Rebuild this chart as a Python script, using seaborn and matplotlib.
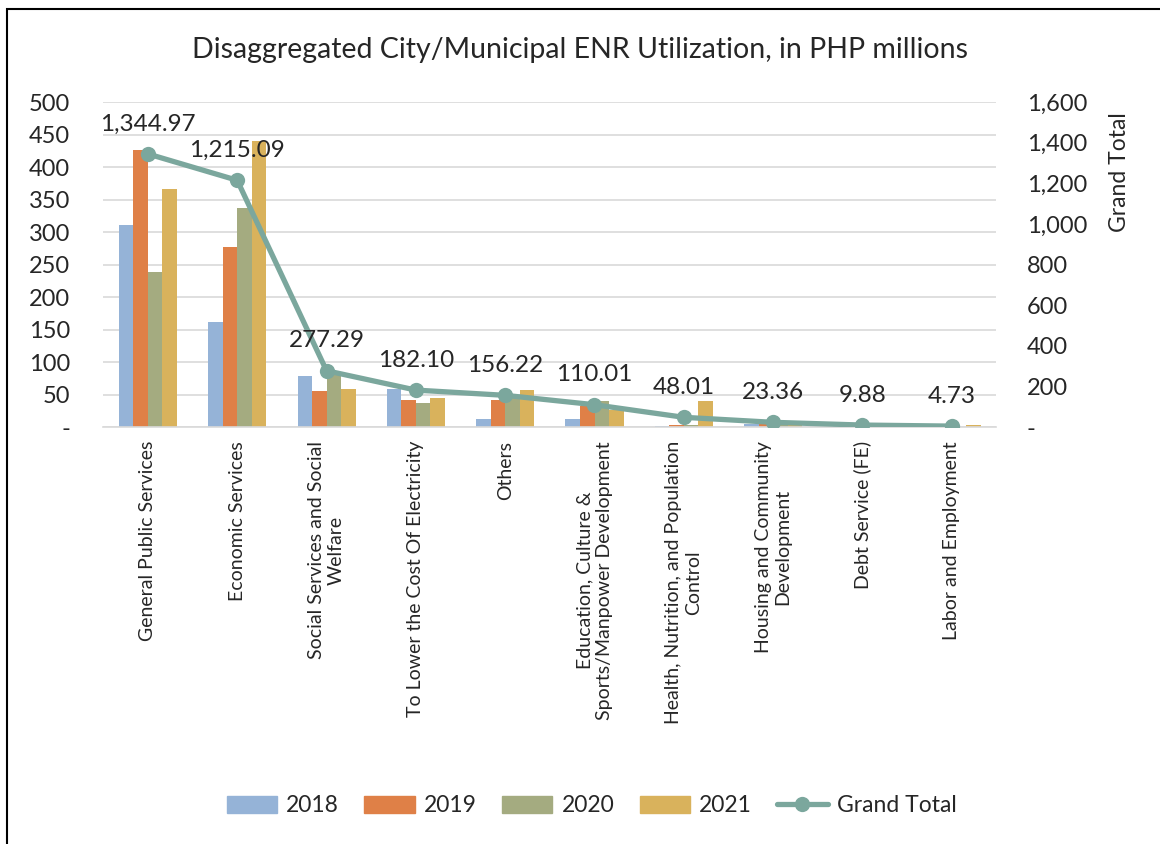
import numpy as np
import pandas as pd
import matplotlib
matplotlib.use("Agg")
import matplotlib.pyplot as plt
import matplotlib.patches as mpatches
from matplotlib.lines import Line2D
from matplotlib.ticker import FuncFormatter, MultipleLocator
import seaborn as sns

# категории и значения (PHP млн)
categories = [
    "General Public Services",
    "Economic Services",
    "Social Services and Social\nWelfare",
    "To Lower the Cost Of Electricity",
    "Others",
    "Education, Culture &\nSports/Manpower Development",
    "Health, Nutrition, and Population\nControl",
    "Housing and Community\nDevelopment",
    "Debt Service (FE)",
    "Labor and Employment",
]
years = ["2018", "2019", "2020", "2021"]
v2018 = [311, 161, 79, 59, 12, 12, 2, 5, 2, 0.5]
v2019 = [427, 277, 55, 42, 41.5, 32, 3, 10, 3, 0.5]
v2020 = [239, 337, 85, 37, 46, 40, 3, 5, 3, 0.5]
v2021 = [367, 440, 58, 44, 57, 26, 40, 3.4, 1.9, 3.2]
grand_total = [1344.97, 1215.09, 277.29, 182.10, 156.22, 110.01, 48.01, 23.36, 9.88, 4.73]

colors = ["#95B3D7", "#DF8047", "#A4AB80", "#D9B25C"]
line_color = "#7BA79D"

sns.set_style("white")
plt.rcParams["font.family"] = ["Lato", "DejaVu Sans"]

df = pd.DataFrame({
    "category": categories * 4,
    "year": np.repeat(years, len(categories)),
    "value": v2018 + v2019 + v2020 + v2021,
})

fig = plt.figure(figsize=(11.6, 8.44), dpi=100)
ax = fig.add_axes([0.089, 0.494, 0.770, 0.385])

sns.barplot(data=df, x="category", y="value", hue="year", order=categories,
            hue_order=years, palette=colors, saturation=1, width=0.65,
            linewidth=0, ax=ax, legend=False)

ax.set_ylim(0, 500)
ax.set_xlim(-0.5, len(categories) - 0.5)
ax.yaxis.set_major_locator(MultipleLocator(50))
ax.yaxis.set_major_formatter(FuncFormatter(lambda v, p: "-" if v == 0 else f"{v:,.0f}"))
ax.grid(axis="y", color="#D9D9D9", lw=1.2)
ax.set_axisbelow(True)
for s in ["left", "right", "top"]:
    ax.spines[s].set_visible(False)
ax.spines["bottom"].set_color("#D9D9D9")
ax.spines["bottom"].set_linewidth(1.2)
ax.tick_params(axis="y", length=0, pad=24, labelsize=17)
ax.tick_params(axis="x", length=0, pad=10)
ax.set_xlabel("")
ax.set_ylabel("")
ax.set_xticks(range(len(categories)))
ax.set_xticklabels(categories, rotation=90, ha="center", va="top",
                   multialignment="center", fontsize=14)

# правая ось - итог
ax2 = ax.twinx()
sns.lineplot(x=np.arange(len(categories)), y=grand_total, ax=ax2,
             color=line_color, lw=3.8, marker="o", markersize=11,
             markeredgewidth=0, legend=False)
ax2.set_ylim(0, 1600)
ax2.yaxis.set_major_locator(MultipleLocator(200))
ax2.yaxis.set_major_formatter(FuncFormatter(lambda v, p: "-" if v == 0 else f"{v:,.0f}"))
ax2.tick_params(axis="y", length=0, pad=22, labelsize=17)
for s in ax2.spines.values():
    s.set_visible(False)
ax2.set_xlim(-0.5, len(categories) - 0.5)

for i, t in enumerate(grand_total):
    ax2.annotate(f"{t:,.2f}", (i, t), xytext=(0, 14), textcoords="offset points",
                 ha="center", va="bottom", fontsize=17.5)

fig.text(1120 / 1160, 1 - 172 / 844, "Grand Total", rotation=90,
         ha="center", va="center", fontsize=16.5)

fig.suptitle("Disaggregated City/Municipal ENR Utilization, in PHP millions",
             y=1 - 50 / 844, va="center", fontsize=20.5)

handles = [mpatches.Patch(color=c, label=y) for c, y in zip(colors, years)]
handles.append(Line2D([0], [0], color=line_color, lw=3.8, marker="o",
                      markersize=11, markeredgewidth=0, label="Grand Total"))
fig.legend(handles=handles, loc="center", bbox_to_anchor=(0.51, 1 - 806 / 844),
           ncol=5, frameon=False, fontsize=16.5, handlelength=2.2,
           handleheight=0.8, handletextpad=0.4, columnspacing=1.1)

fig.add_artist(mpatches.Rectangle((7 / 1160, -0.01), 1.1, 1 - 9 / 844 + 0.01,
                                  transform=fig.transFigure, fill=False,
                                  lw=1.5, edgecolor="black"))

fig.savefig("out.png", dpi=100)
